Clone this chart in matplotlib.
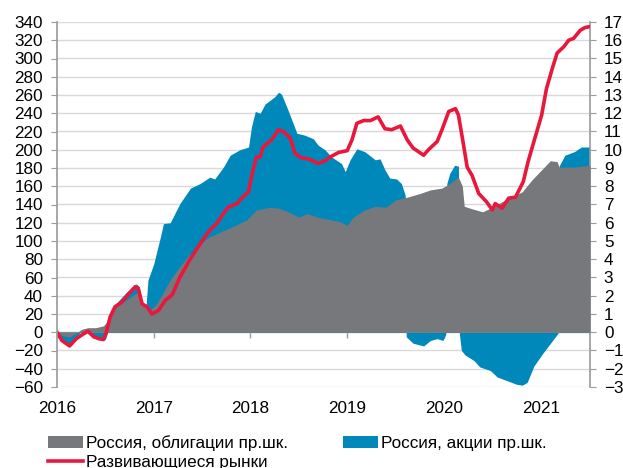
import matplotlib
matplotlib.use('Agg')
import matplotlib.pyplot as plt

plt.rcParams['font.family'] = ['Liberation Sans', 'DejaVu Sans']
plt.rcParams['font.size'] = 12.3

# Развивающиеся рынки, левая шкала
em_t = [2016.00, 2016.05, 2016.13, 2016.20, 2016.27, 2016.32, 2016.38, 2016.43, 2016.48, 2016.51,
        2016.55, 2016.60, 2016.67, 2016.74, 2016.81, 2016.84, 2016.88, 2016.93, 2016.98, 2017.05,
        2017.12, 2017.19, 2017.27, 2017.37, 2017.48, 2017.58, 2017.65, 2017.72, 2017.77, 2017.86,
        2017.91, 2017.98, 2018.01, 2018.06, 2018.10, 2018.13, 2018.22, 2018.29, 2018.34, 2018.41,
        2018.46, 2018.53, 2018.60, 2018.70, 2018.77, 2018.84, 2018.91, 2019.00, 2019.05, 2019.10,
        2019.17, 2019.24, 2019.32, 2019.39, 2019.46, 2019.55, 2019.62, 2019.68, 2019.79, 2019.84,
        2019.93, 2019.98, 2020.05, 2020.12, 2020.15, 2020.20, 2020.24, 2020.29, 2020.36, 2020.44,
        2020.50, 2020.53, 2020.60, 2020.67, 2020.74, 2020.82, 2020.87, 2020.93, 2020.98, 2021.01,
        2021.06, 2021.12, 2021.17, 2021.24, 2021.29, 2021.34, 2021.41, 2021.46, 2021.51]
em_flows = [0, -9, -15, -7, -2, 1, -5, -7, -8, 0,
            17, 28, 33, 42, 50, 48, 31, 28, 20, 24,
            35, 41, 60, 79, 97, 112, 119, 130, 137, 141,
            147, 154, 170, 192, 192, 203, 211, 222, 220, 213,
            196, 191, 190, 185, 188, 193, 197, 199, 211, 229,
            232, 232, 236, 223, 222, 226, 211, 202, 194, 200,
            209, 222, 242, 245, 238, 207, 181, 172, 152, 143,
            134, 141, 136, 147, 148, 165, 187, 209, 227, 238,
            267, 289, 306, 313, 320, 322, 331, 334, 335]

# Россия, облигации, правая шкала
bonds_t = [2016.00, 2016.06, 2016.13, 2016.20, 2016.25, 2016.32, 2016.40, 2016.48, 2016.52, 2016.56,
           2016.62, 2016.70, 2016.78, 2016.84, 2016.90, 2016.96, 2017.02, 2017.08, 2017.13, 2017.20,
           2017.27, 2017.36, 2017.44, 2017.55, 2017.69, 2017.82, 2017.96, 2018.06, 2018.20, 2018.29,
           2018.39, 2018.50, 2018.58, 2018.70, 2018.84, 2018.93, 2019.00, 2019.06, 2019.18, 2019.29,
           2019.40, 2019.50, 2019.62, 2019.75, 2019.86, 2019.98, 2020.06, 2020.15, 2020.19, 2020.21,
           2020.30, 2020.40, 2020.50, 2020.60, 2020.70, 2020.81, 2020.91, 2021.01, 2021.10, 2021.17,
           2021.19, 2021.35, 2021.51]
bonds_flows = [0, -0.2, -0.25, -0.05, 0.15, 0.25, 0.25, 0.35, 0.6, 1.0,
               1.4, 1.7, 2.0, 2.2, 1.5, 1.2, 1.5, 2.0, 2.5, 3.1,
               3.6, 4.2, 4.6, 5.15, 5.5, 5.8, 6.15, 6.7, 6.85, 6.8,
               6.6, 6.3, 6.5, 6.3, 6.15, 6.05, 5.85, 6.3, 6.7, 6.9,
               6.85, 7.25, 7.4, 7.6, 7.8, 7.9, 8.15, 8.5, 8.0, 6.9,
               6.75, 6.6, 6.85, 7.15, 7.4, 7.7, 8.35, 8.9, 9.4, 9.35,
               9.05, 9.05, 9.15]

# Россия, акции, правая шкала
stocks_t = [2016.00, 2016.06, 2016.13, 2016.20, 2016.26, 2016.32, 2016.37, 2016.43, 2016.50, 2016.54,
            2016.57, 2016.64, 2016.72, 2016.82, 2016.85, 2016.88, 2016.92, 2016.94, 2017.00, 2017.07,
            2017.10, 2017.17, 2017.27, 2017.38, 2017.48, 2017.58, 2017.63, 2017.72, 2017.79, 2017.89,
            2017.98, 2018.01, 2018.05, 2018.10, 2018.15, 2018.20, 2018.25, 2018.29, 2018.32, 2018.375,
            2018.43, 2018.48, 2018.56, 2018.65, 2018.70, 2018.77, 2018.84, 2018.94, 2018.98, 2019.03,
            2019.10, 2019.18, 2019.29, 2019.34, 2019.39, 2019.44, 2019.51, 2019.56, 2019.60, 2019.61,
            2019.68, 2019.79, 2019.86, 2019.93, 2019.99, 2020.02, 2020.03, 2020.06, 2020.11, 2020.15,
            2020.16, 2020.18, 2020.22, 2020.31, 2020.37, 2020.48, 2020.55, 2020.65, 2020.75, 2020.81,
            2020.86, 2020.93, 2021.03, 2021.13, 2021.18, 2021.19, 2021.25, 2021.35, 2021.42, 2021.51]
stocks_flows = [0, -0.4, -0.8, -0.3, 0.15, 0.2, -0.15, -0.4, -0.4, 0.25,
                1.3, 1.75, 2.2, 2.65, 2.5, 1.6, 1.4, 2.85, 3.75, 5.25,
                5.95, 6.0, 7.05, 7.9, 8.15, 8.5, 8.4, 9.05, 9.7, 10.0,
                10.15, 11.25, 12.1, 12.0, 12.5, 12.7, 12.9, 13.15, 13.05, 12.35,
                11.6, 10.9, 10.8, 10.6, 10.25, 10.0, 9.6, 9.25, 8.8, 9.45,
                10.05, 9.9, 9.45, 9.5, 8.9, 8.45, 8.4, 8.15, 7.5, -0.25,
                -0.6, -0.75, -0.45, -0.35, -0.45, -0.1, 8.15, 8.7, 9.15, 9.1,
                -0.1, -1.0, -1.25, -1.55, -1.9, -2.1, -2.45, -2.65, -2.85, -2.9,
                -2.75, -1.85, -1.1, -0.4, -0.05, 9.1, 9.7, 9.9, 10.15, 10.15]

years = [2016, 2017, 2018, 2019, 2020, 2021]

GRAY = '#77787b'
BLUE = '#0088bb'
RED = '#e8173c'
AXIS = '#9a9a9a'

fig = plt.figure(figsize=(6.23, 4.68), dpi=100)
ax = fig.add_axes([57 / 623, 1 - 387 / 468, 533 / 623, 365 / 468])
axr = ax.twinx()

# areas on the right scale, drawn underneath the EM line
ax.set_zorder(axr.get_zorder() + 1)
ax.patch.set_visible(False)

blue_area = axr.fill_between(stocks_t, 0, stocks_flows, color=BLUE, lw=0, zorder=2,
                             label='Россия, акции пр.шк.')
gray_area = axr.fill_between(bonds_t, 0, bonds_flows, color=GRAY, lw=0, zorder=3,
                             label='Россия, облигации пр.шк.')
red_line, = ax.plot(em_t, em_flows, color=RED, lw=2.6, solid_joinstyle='round',
                    label='Развивающиеся рынки')

ax.set_xlim(2016, 2021.51)
ax.set_ylim(-60, 340)
ax.set_yticks(range(-60, 341, 20))
axr.set_ylim(-3, 17)
axr.set_yticks(range(-3, 18))

axr.set_axisbelow(True)
axr.yaxis.grid(True, color='#d9d9d9', lw=1)

# x labels at the bottom, tick marks on the zero line
ax.set_xticks(years)
ax.set_xticklabels([str(y) for y in years])
ax.tick_params(axis='x', length=0, pad=10)
axr.xaxis.set_visible(True)
axr.tick_params(axis='x', labelbottom=False, direction='out', length=4, color=AXIS, width=1)
axr.spines['bottom'].set_position(('data', 0))
axr.spines['bottom'].set_color(AXIS)
axr.spines['bottom'].set_zorder(0.6)

for s in ['top', 'right', 'bottom']:
    ax.spines[s].set_visible(False)
for s in ['top', 'left']:
    axr.spines[s].set_visible(False)
ax.spines['left'].set_color(AXIS)
ax.spines['left'].set_linewidth(1.2)
axr.spines['right'].set_color(AXIS)
axr.spines['right'].set_linewidth(1.2)
ax.tick_params(axis='y', direction='out', length=4, color=AXIS, pad=6)
axr.tick_params(axis='y', direction='out', length=4, color=AXIS, pad=6)

fig.legend(handles=[gray_area, red_line, blue_area], ncol=2, loc='upper left',
           bbox_to_anchor=(48 / 623, 1 - 435 / 468), frameon=False, fontsize=12.3,
           handlelength=2.05, handleheight=0.75, handletextpad=0.18, columnspacing=3.2,
           labelspacing=0.25, borderpad=0, borderaxespad=0)

fig.savefig('out.png', dpi=100)
